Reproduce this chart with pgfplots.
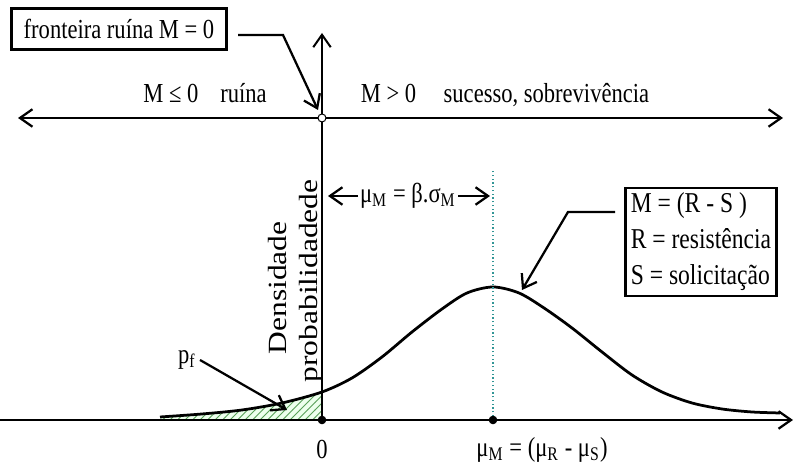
\documentclass[border=0pt]{standalone}
\usepackage{pgfplots}
\pgfplotsset{compat=1.18}
\usepackage{fontspec}
\setmainfont{Liberation Serif}[FakeStretch=0.82]
\newfontfamily\denfont{Liberation Serif}[FakeStretch=1.2]
\usetikzlibrary{arrows.meta,patterns}
\definecolor{hatch}{RGB}{90,160,90}
\definecolor{dotline}{RGB}{50,150,150}
\begin{document}
\begin{tikzpicture}[>={Straight Barb[length=5pt,width=7pt]},
  lbl/.style={font=\fontsize{11}{13}\selectfont}]
\begin{axis}[
    scale only axis,
    width=318pt,height=188pt,
    xmin=-322,xmax=473,
    ymin=-50,ymax=420,
    axis lines=none,
    clip=false
]
% area p_f (tail left of M = 0)
\addplot[draw=none,fill=green!7] coordinates {
(-162,3) (-120,6) (-80,10) (-40,17) (0,28)
} \closedcycle;
\addplot[draw=none,pattern=north east lines,pattern color=hatch] coordinates {
(-162,3) (-120,6) (-80,10) (-40,17) (0,28)
} \closedcycle;
% probability density of M
\addplot[smooth,line width=1.1pt,black] coordinates {
(-162,3) (-120,6) (-80,10) (-40,17) (0,28) (30,42) (60,63) (90,88)
(120,111) (145,127) (171,133) (197,127) (222,112) (250,92) (280,68)
(310,45) (340,28) (370,17) (400,11) (430,8) (458,7)
};
% mean line
\addplot[dotline,densely dotted,line width=0.5pt] coordinates {(171,0) (171,250)};
% axes
\draw[line width=0.9pt,->] (axis cs:-322,0) -- (axis cs:471,0);
\draw[line width=0.8pt,->] (axis cs:0,0) -- (axis cs:0,387);
\draw[line width=0.9pt,<->] (axis cs:-304,302) -- (axis cs:461,302);
\addplot[only marks,mark=*,mark size=1.5pt,black] coordinates {(0,0) (171,0)};
\addplot[only marks,mark=*,mark size=1.6pt,draw=black,fill=white] coordinates {(0,302)};
% labels
\node[lbl,draw,line width=1.1pt,minimum width=86pt,minimum height=16.5pt,inner sep=1pt]
  at (axis cs:-203,391) {fronteira ruína M = 0};
\draw[line width=0.9pt,->] (axis cs:-84,385) -- (axis cs:-39,385) -- (axis cs:-4,310);
\node[lbl,anchor=base] at (axis cs:-117,317) {M ≤ 0\hspace{0.8em}ruína};
\node[lbl,anchor=base] at (axis cs:183,317) {M > 0\hspace{1em}sucesso, sobrevivência};
\node[font=\denfont\fontsize{10.5}{12}\selectfont,rotate=90] at (axis cs:-44,132) {Densidade};
\node[font=\denfont\fontsize{10.5}{12}\selectfont,rotate=90] at (axis cs:-11,139) {probabilidadede};
\draw[line width=0.9pt,->] (axis cs:36,224) -- (axis cs:6,224);
\draw[line width=0.9pt,->] (axis cs:136,224) -- (axis cs:168,224);
\node[lbl] at (axis cs:86,224) {μ\textsubscript{M} = β.σ\textsubscript{M}};
\node[draw,line width=1.1pt,align=left,inner sep=2pt,minimum width=58pt,
  font=\fontsize{11.5}{14.4}\selectfont] at (axis cs:379,178)
  {M = (R - S )\\R = resistência\\S = solicitação};
\draw[line width=0.9pt,->] (axis cs:293,208) -- (axis cs:246,208) -- (axis cs:200,130);
\node[lbl] at (axis cs:-135,60) {p\textsubscript{f}};
\draw[line width=0.9pt,->] (axis cs:-122,60) -- (axis cs:-35,10);
\node[lbl] at (axis cs:0,-30) {0};
\node[lbl] at (axis cs:220,-30) {μ\textsubscript{M} = (μ\textsubscript{R} - μ\textsubscript{S})};
\coordinate (bl) at (rel axis cs:0,0);
\coordinate (tr) at (rel axis cs:1,1);
\end{axis}
\pgfresetboundingbox
\useasboundingbox (bl) rectangle (tr);
\end{tikzpicture}
\end{document}
